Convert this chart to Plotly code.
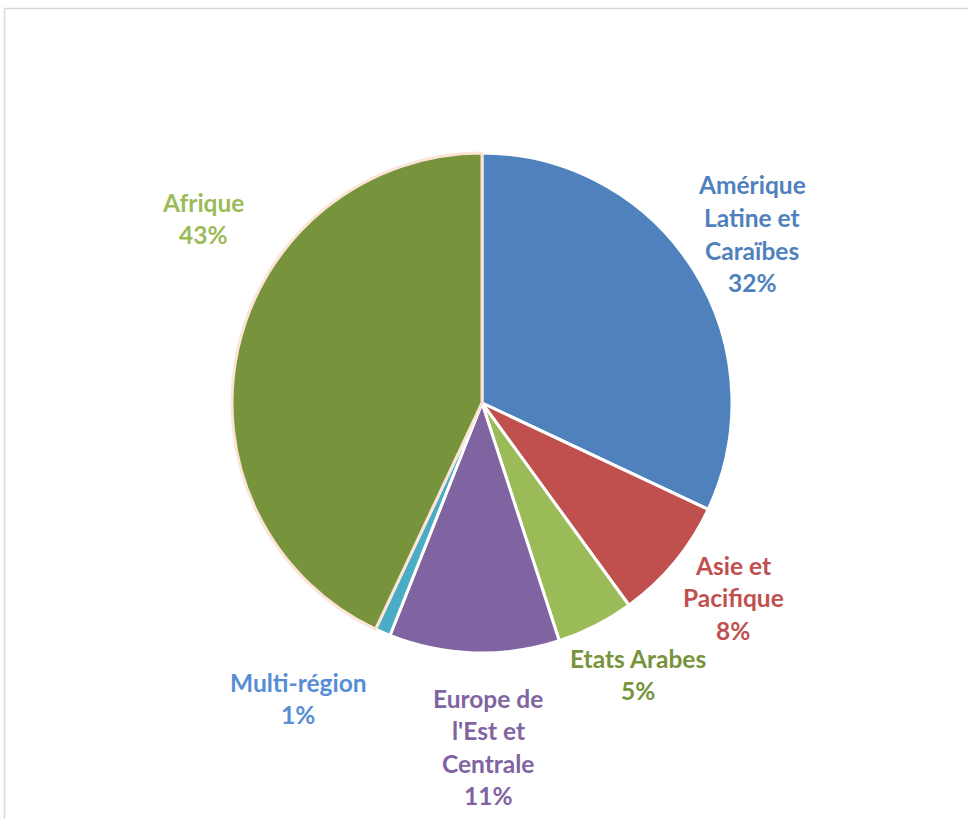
import plotly.graph_objects as go

regions = ["Amérique Latine et Caraïbes", "Asie et Pacifique", "Etats Arabes",
           "Europe de l'Est et Centrale", "Multi-région", "Afrique"]
shares = [32, 8, 5, 11, 1, 43]
slice_colors = ["#4F81BD", "#C0504D", "#9BBB59", "#8064A2", "#4BACC6", "#77933C"]
edge_colors = ["#FFFFFF", "#FFFFFF", "#FFFFFF", "#FFFFFF", "#FFFFFF", "#FCE4D6"]
label_colors = ["#4F81BD", "#C0504D", "#77933C", "#8064A2", "#558ED5", "#9BBB59"]
label_lines = [
    ["Amérique", "Latine et", "Caraïbes"],
    ["Asie et", "Pacifique"],
    ["Etats Arabes"],
    ["Europe de", "l'Est et", "Centrale"],
    ["Multi-région"],
    ["Afrique"],
]
# label anchor (pixel center of first line) for each region
label_pos = [(752, 185), (733, 565), (638, 658), (488, 698), (298, 682), (203, 202)]

W, H = 968, 819
cx, cy, r = 482, 403, 250

fig = go.Figure()
fig.add_trace(go.Pie(
    labels=regions, values=shares, sort=False, direction="clockwise", rotation=0,
    marker=dict(colors=slice_colors, line=dict(color=edge_colors, width=3)),
    textinfo="none", hoverinfo="label+percent", showlegend=False,
    domain=dict(x=[(cx - r) / W, (cx + r) / W], y=[1 - (cy + r) / H, 1 - (cy - r) / H]),
))

total = sum(shares)
step = 32.5
for lines, v, col, (px, py) in zip(label_lines, shares, label_colors, label_pos):
    all_lines = lines + [f"{round(100 * v / total)}%"]
    for i, t in enumerate(all_lines):
        fig.add_annotation(
            x=px / W, y=1 - (py + i * step) / H, xref="paper", yref="paper",
            text=t, showarrow=False, xanchor="center", yanchor="middle",
            font=dict(family="Lato", size=24.5, color=col, weight="bold"),
        )

fig.add_shape(type="rect", xref="paper", yref="paper",
              x0=4.5 / W, x1=1.05, y0=-0.05, y1=1 - 8.5 / H,
              line=dict(color="#D9D9D9", width=1.5), fillcolor="rgba(0,0,0,0)")

fig.update_layout(width=W, height=H, margin=dict(l=0, r=0, t=0, b=0),
                  paper_bgcolor="white", plot_bgcolor="white")
fig.write_html("out.html")
